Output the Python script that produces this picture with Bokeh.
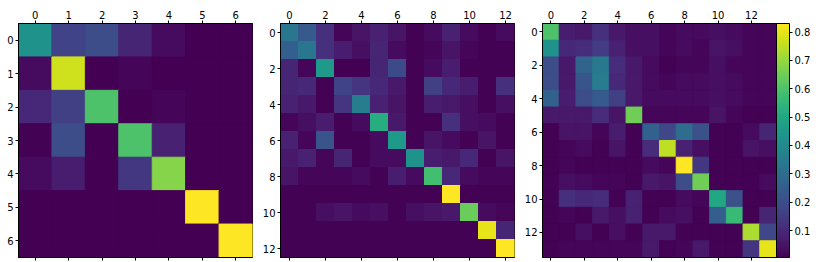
from bokeh.plotting import figure
from bokeh.models import (LinearColorMapper, ColorBar, FixedTicker, LinearAxis,
                          Range1d, ColumnDataSource, CustomJSTickFormatter)
from bokeh.palettes import Viridis256
from bokeh.layouts import row
from bokeh.embed import file_html
from bokeh.resources import INLINE

# ---------------- data ----------------
conf_a = [
    [0.43, 0.17, 0.20, 0.09, 0.03, 0.00, 0.00],
    [0.03, 0.77, 0.00, 0.02, 0.00, 0.00, 0.00],
    [0.10, 0.16, 0.60, 0.00, 0.02, 0.00, 0.00],
    [0.01, 0.20, 0.00, 0.60, 0.08, 0.00, 0.00],
    [0.03, 0.07, 0.00, 0.14, 0.68, 0.00, 0.00],
    [0.00, 0.00, 0.00, 0.00, 0.00, 0.83, 0.00],
    [0.00, 0.00, 0.00, 0.00, 0.00, 0.00, 0.83],
]

conf_b = [
    [0.33, 0.24, 0.12, 0.02, 0.05, 0.08, 0.05, 0.01, 0.03, 0.08, 0.03, 0.01, 0.03],
    [0.25, 0.33, 0.12, 0.07, 0.04, 0.09, 0.03, 0.01, 0.02, 0.05, 0.02, 0.01, 0.01],
    [0.09, 0.02, 0.45, 0.00, 0.00, 0.09, 0.19, 0.01, 0.03, 0.07, 0.01, 0.01, 0.01],
    [0.09, 0.10, 0.01, 0.17, 0.13, 0.10, 0.06, 0.01, 0.16, 0.10, 0.07, 0.01, 0.12],
    [0.08, 0.06, 0.01, 0.13, 0.35, 0.08, 0.05, 0.01, 0.07, 0.06, 0.04, 0.01, 0.04],
    [0.02, 0.04, 0.07, 0.01, 0.03, 0.52, 0.06, 0.01, 0.01, 0.12, 0.04, 0.03, 0.01],
    [0.08, 0.02, 0.22, 0.01, 0.01, 0.03, 0.45, 0.01, 0.05, 0.03, 0.01, 0.05, 0.01],
    [0.06, 0.08, 0.02, 0.09, 0.01, 0.03, 0.03, 0.43, 0.07, 0.06, 0.10, 0.01, 0.05],
    [0.05, 0.02, 0.02, 0.02, 0.03, 0.01, 0.07, 0.03, 0.58, 0.10, 0.03, 0.02, 0.02],
    [0.01, 0.01, 0.01, 0.01, 0.01, 0.01, 0.01, 0.01, 0.01, 0.83, 0.01, 0.01, 0.01],
    [0.01, 0.01, 0.04, 0.05, 0.03, 0.04, 0.01, 0.04, 0.05, 0.06, 0.64, 0.03, 0.02],
    [0.01, 0.01, 0.01, 0.01, 0.01, 0.01, 0.01, 0.01, 0.01, 0.01, 0.01, 0.80, 0.09],
    [0.01, 0.01, 0.01, 0.01, 0.01, 0.01, 0.01, 0.01, 0.01, 0.01, 0.01, 0.01, 0.83],
]

conf_c = [
    [0.60, 0.07, 0.06, 0.12, 0.06, 0.04, 0.04, 0.02, 0.03, 0.03, 0.04, 0.03, 0.02, 0.02],
    [0.43, 0.10, 0.11, 0.15, 0.08, 0.04, 0.04, 0.02, 0.03, 0.02, 0.05, 0.04, 0.02, 0.02],
    [0.20, 0.06, 0.27, 0.34, 0.11, 0.06, 0.03, 0.01, 0.02, 0.02, 0.04, 0.02, 0.02, 0.02],
    [0.20, 0.06, 0.22, 0.35, 0.10, 0.06, 0.03, 0.02, 0.03, 0.03, 0.04, 0.03, 0.02, 0.02],
    [0.26, 0.07, 0.20, 0.24, 0.16, 0.06, 0.03, 0.03, 0.03, 0.03, 0.04, 0.03, 0.02, 0.02],
    [0.06, 0.06, 0.06, 0.11, 0.05, 0.65, 0.02, 0.02, 0.02, 0.02, 0.05, 0.02, 0.01, 0.01],
    [0.01, 0.05, 0.05, 0.02, 0.07, 0.01, 0.26, 0.18, 0.30, 0.21, 0.01, 0.01, 0.03, 0.09],
    [0.01, 0.02, 0.03, 0.01, 0.05, 0.01, 0.11, 0.75, 0.08, 0.04, 0.01, 0.01, 0.05, 0.04],
    [0.01, 0.02, 0.01, 0.01, 0.01, 0.01, 0.03, 0.02, 0.83, 0.14, 0.01, 0.01, 0.01, 0.01],
    [0.01, 0.04, 0.03, 0.02, 0.02, 0.01, 0.06, 0.05, 0.20, 0.65, 0.01, 0.01, 0.01, 0.03],
    [0.01, 0.12, 0.10, 0.11, 0.01, 0.08, 0.01, 0.01, 0.03, 0.02, 0.50, 0.21, 0.01, 0.01],
    [0.01, 0.02, 0.01, 0.06, 0.04, 0.08, 0.01, 0.03, 0.04, 0.01, 0.25, 0.56, 0.01, 0.09],
    [0.01, 0.01, 0.04, 0.01, 0.04, 0.01, 0.06, 0.06, 0.01, 0.01, 0.01, 0.01, 0.73, 0.18],
    [0.01, 0.02, 0.02, 0.02, 0.02, 0.02, 0.06, 0.01, 0.02, 0.06, 0.01, 0.01, 0.13, 0.80],
]

ticks_a = [0, 1, 2, 3, 4, 5, 6]
ticks_b = [0, 2, 4, 6, 8, 10, 12]
ticks_c = [0, 2, 4, 6, 8, 10, 12]
cbar_ticks = [0.1, 0.2, 0.3, 0.4, 0.5, 0.6, 0.7, 0.8]
vmin, vmax = 0.005, 0.83

# ---------------- plotting ----------------
FONT = "DejaVu Sans"
mapper = LinearColorMapper(palette=Viridis256, low=vmin, high=vmax)
FW, FH = 234, 234


def style_axis(ax, ticks, labels=True):
    ax.ticker = FixedTicker(ticks=ticks)
    ax.axis_line_color = "black"
    ax.major_tick_line_color = "black"
    ax.major_tick_out = 3
    ax.major_tick_in = 0
    ax.minor_tick_line_color = None
    ax.major_label_text_font = FONT
    ax.major_label_text_color = "black"
    ax.major_label_text_font_size = "10px"
    ax.major_label_standoff = 2
    if not labels:
        ax.formatter = CustomJSTickFormatter(code="return '';")
        ax.major_label_standoff = 0


def make(mat, ticks, bl, br):
    n = len(mat)
    xs, ys, vs = [], [], []
    for i, r in enumerate(mat):
        for j, v in enumerate(r):
            xs.append(j)
            ys.append(i)
            vs.append(v)
    src = ColumnDataSource(dict(x=xs, y=ys, v=vs))
    p = figure(frame_width=FW, frame_height=FH,
               x_range=Range1d(-0.5, n - 0.5), y_range=Range1d(n - 0.5, -0.5),
               x_axis_location="above", output_backend="svg",
               toolbar_location=None,
               min_border_left=bl, min_border_right=br,
               min_border_top=23, min_border_bottom=4)
    p.rect("x", "y", 1, 1, source=src,
           fill_color={"field": "v", "transform": mapper},
           line_color={"field": "v", "transform": mapper}, line_width=1)
    p.grid.visible = False
    p.outline_line_color = "black"
    p.outline_line_width = 1
    p.background_fill_color = "#440154"
    p.border_fill_color = "white"
    style_axis(p.xaxis[0], ticks)
    style_axis(p.yaxis[0], ticks)
    bot = LinearAxis()
    style_axis(bot, ticks, labels=False)
    p.add_layout(bot, "below")
    return p


p1 = make(conf_a, ticks_a, 18, 2)
p2 = make(conf_b, ticks_b, 26, 2)
p3 = make(conf_c, ticks_c, 26, 0)

cb = ColorBar(color_mapper=mapper, ticker=FixedTicker(ticks=cbar_ticks),
              width=13, margin=14, padding=0,
              bar_line_color="black", bar_line_width=1,
              major_tick_out=3, major_tick_in=0,
              major_tick_line_color="black", minor_tick_line_color=None,
              label_standoff=2, major_label_text_font=FONT,
              major_label_text_font_size="10px",
              major_label_text_color="black",
              background_fill_color=None, border_line_color=None)
p3.add_layout(cb, "right")

layout = row(p1, p2, p3, spacing=0)
open("out.html", "w").write(file_html(layout, INLINE))
